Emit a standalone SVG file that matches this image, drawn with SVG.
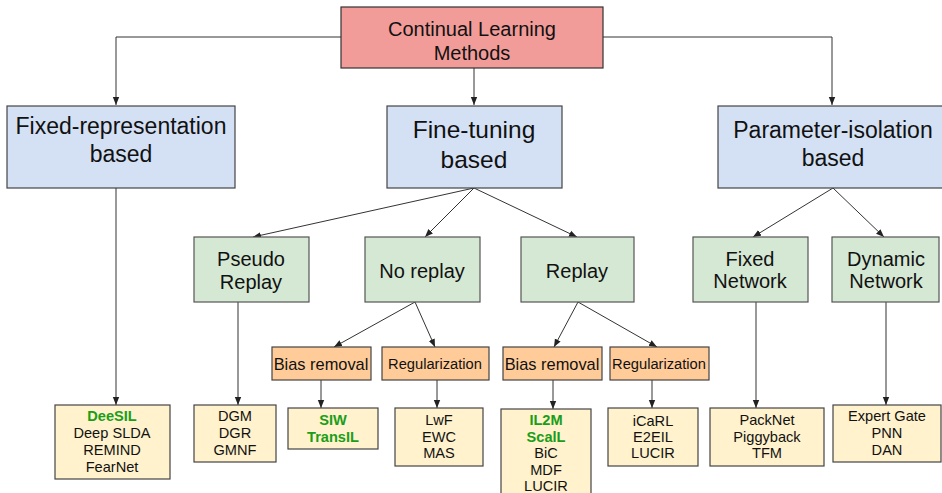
<svg xmlns="http://www.w3.org/2000/svg" width="942" height="493" viewBox="0 0 942 493">
<defs>
<marker id="ah" viewBox="0 0 10 10" refX="10" refY="5" markerWidth="8" markerHeight="8" markerUnits="userSpaceOnUse" orient="auto">
<path d="M0,1 L10,5 L0,9 Z" fill="#222"/>
</marker>
</defs>
<style>
text{font-family:"Liberation Sans",Arial,sans-serif;fill:#111;text-anchor:middle}
.root rect{fill:#f19c99;stroke:#333;stroke-width:1.2}
.l1 rect{fill:#d4e1f5;stroke:#444;stroke-width:1.2}
.l2 rect{fill:#d5e8d4;stroke:#555;stroke-width:1.2}
.l2 text{font-size:20px}
.l3 rect{fill:#ffcc99;stroke:#444;stroke-width:1.2}
.leaf rect{fill:#fff2cc;stroke:#444;stroke-width:1.2}
.leaf text{font-size:14.6px}
.g{fill:#1a9e1a;font-weight:bold}
#edges path{fill:none;stroke:#333;stroke-width:1;marker-end:url(#ah)}
</style>
<rect width="942" height="493" fill="#fff"/>
<g id="edges">
<path d="M341,37 H116 V105"/>
<path d="M474,68 V105"/>
<path d="M603,37 H832 V105"/>
<path d="M116,188 V405"/>
<path d="M474,188 L253,237"/>
<path d="M474,188 L425,237"/>
<path d="M474,188 L577,237"/>
<path d="M833,188 L753,237"/>
<path d="M833,188 L884,237"/>
<path d="M415,302 L334,347"/>
<path d="M415,302 L435,347"/>
<path d="M578,302 L554,347"/>
<path d="M578,302 L657,347"/>
<path d="M238,302 V405"/>
<path d="M321,380 V408"/>
<path d="M437,380 V408"/>
<path d="M553,380 V409"/>
<path d="M652,380 V408"/>
<path d="M756,302 V408"/>
<path d="M886,302 V405"/>
</g>
<g id="root" class="root">
<rect x="341" y="7" width="262" height="61"/>
<text x="472" y="36" font-size="20">Continual Learning</text>
<text x="472" y="60" font-size="20">Methods</text>
</g>
<g id="fixed-rep" class="l1">
<rect x="7" y="106" width="228" height="82"/>
<text x="121" y="134" font-size="23">Fixed-representation</text>
<text x="121" y="162" font-size="23">based</text>
</g>
<g id="fine-tuning" class="l1">
<rect x="387" y="106" width="175" height="82"/>
<text x="474" y="138" font-size="24.5">Fine-tuning</text>
<text x="474" y="168" font-size="24.5">based</text>
</g>
<g id="param-iso" class="l1">
<rect x="718" y="106" width="226" height="82"/>
<text x="833" y="138" font-size="23">Parameter-isolation</text>
<text x="833" y="166" font-size="23">based</text>
</g>
<g id="pseudo-replay" class="l2">
<rect x="194" y="237" width="115" height="65"/>
<text x="251" y="266">Pseudo</text>
<text x="251" y="289">Replay</text>
</g>
<g id="no-replay" class="l2">
<rect x="365" y="237" width="115" height="65"/>
<text x="422" y="278">No replay</text>
</g>
<g id="replay" class="l2">
<rect x="521" y="237" width="113" height="65"/>
<text x="577" y="278">Replay</text>
</g>
<g id="fixed-network" class="l2">
<rect x="693" y="237" width="115" height="65"/>
<text x="750" y="266">Fixed</text>
<text x="750" y="288">Network</text>
</g>
<g id="dynamic-network" class="l2">
<rect x="832" y="237" width="107" height="65"/>
<text x="886" y="266">Dynamic</text>
<text x="886" y="288">Network</text>
</g>
<g id="bias-nr" class="l3">
<rect x="272" y="347" width="99" height="33"/>
<text x="321" y="370" font-size="16.4">Bias removal</text>
</g>
<g id="reg-nr" class="l3">
<rect x="382" y="347" width="107" height="33"/>
<text x="435" y="369" font-size="14.7">Regularization</text>
</g>
<g id="bias-r" class="l3">
<rect x="503" y="347" width="99" height="33"/>
<text x="552" y="370" font-size="16.4">Bias removal</text>
</g>
<g id="reg-r" class="l3">
<rect x="610" y="347" width="99" height="33"/>
<text x="659" y="369" font-size="14.7">Regularization</text>
</g>
<g id="leaf-fixed" class="leaf">
<rect x="55" y="405" width="115" height="74"/>
<text x="112" y="421" class="g">DeeSIL</text>
<text x="112" y="438">Deep SLDA</text>
<text x="112" y="455">REMIND</text>
<text x="112" y="472">FearNet</text>
</g>
<g id="leaf-pseudo" class="leaf">
<rect x="194" y="405" width="82" height="57"/>
<text x="235" y="421">DGM</text>
<text x="235" y="438">DGR</text>
<text x="235" y="455">GMNF</text>
</g>
<g id="leaf-bias-nr" class="leaf">
<rect x="288" y="408" width="90" height="41"/>
<text x="333" y="425" class="g">SIW</text>
<text x="333" y="442" class="g">TransIL</text>
</g>
<g id="leaf-reg-nr" class="leaf">
<rect x="395" y="408" width="88" height="58"/>
<text x="439" y="425">LwF</text>
<text x="439" y="442">EWC</text>
<text x="439" y="458">MAS</text>
</g>
<g id="leaf-bias-r" class="leaf">
<rect x="501" y="409" width="90" height="90"/>
<text x="546" y="425" class="g">IL2M</text>
<text x="546" y="442" class="g">ScalL</text>
<text x="546" y="458">BiC</text>
<text x="546" y="475">MDF</text>
<text x="546" y="491">LUCIR</text>
</g>
<g id="leaf-reg-r" class="leaf">
<rect x="608" y="408" width="90" height="58"/>
<text x="653" y="426">iCaRL</text>
<text x="653" y="442">E2EIL</text>
<text x="653" y="458">LUCIR</text>
</g>
<g id="leaf-fixed-net" class="leaf">
<rect x="710" y="408" width="114" height="58"/>
<text x="767" y="425">PackNet</text>
<text x="767" y="442">Piggyback</text>
<text x="767" y="458">TFM</text>
</g>
<g id="leaf-dynamic" class="leaf">
<rect x="833" y="405" width="108" height="57"/>
<text x="887" y="421">Expert Gate</text>
<text x="887" y="438">PNN</text>
<text x="887" y="455">DAN</text>
</g>
</svg>
